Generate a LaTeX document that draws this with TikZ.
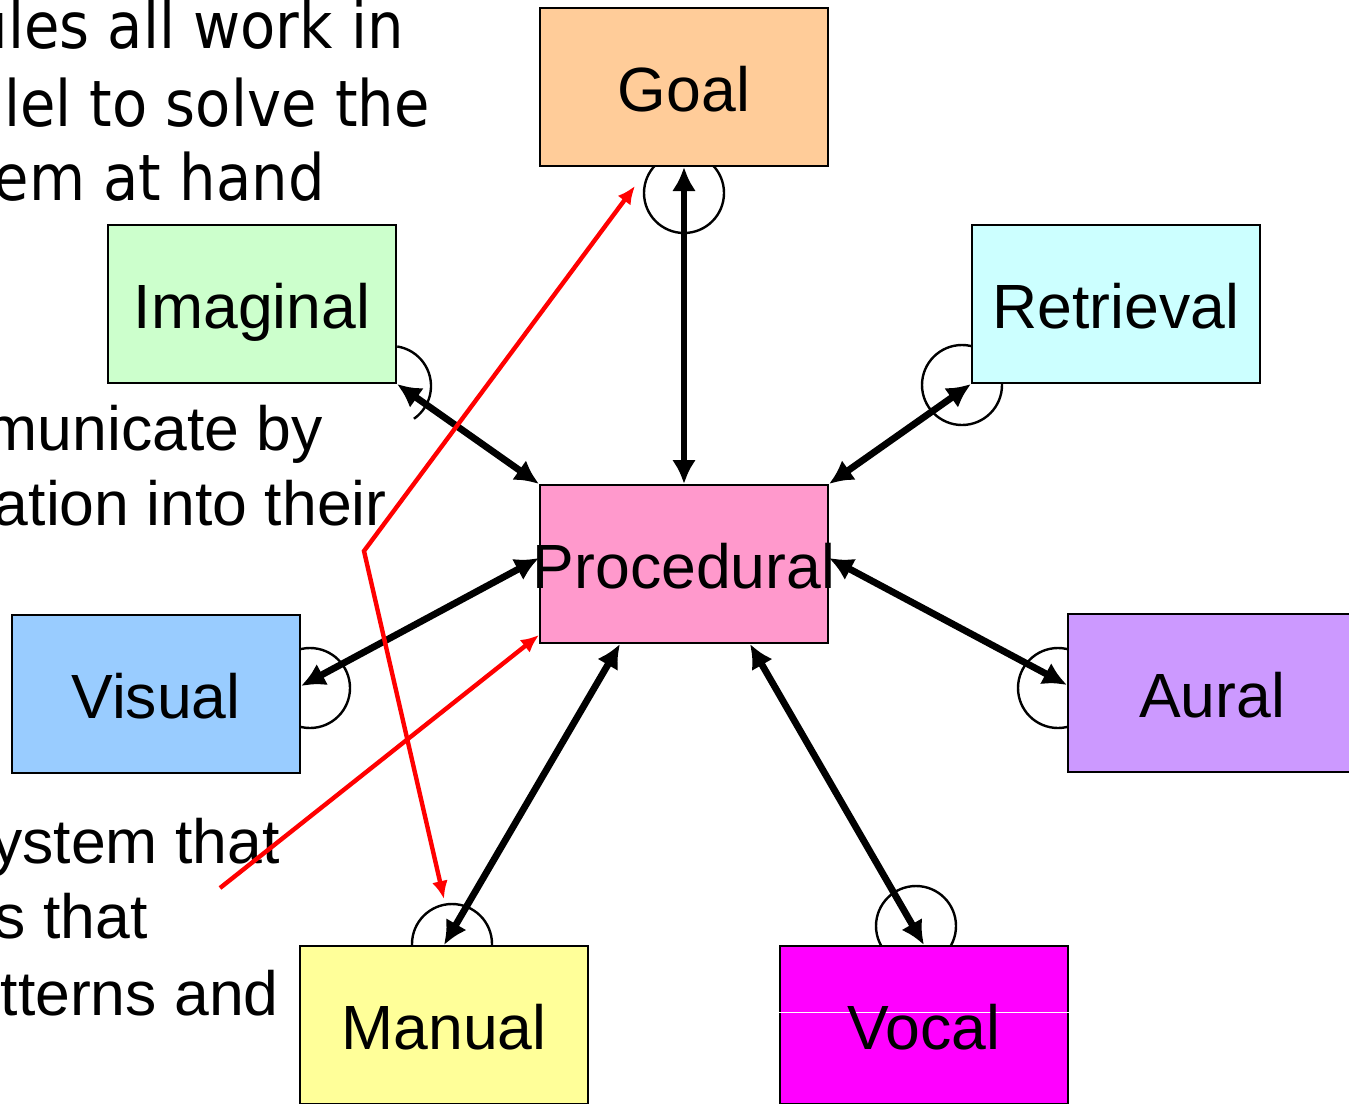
\documentclass[tikz,border=0pt]{standalone}
\usepackage{fontspec}
\setmainfont{Liberation Sans}
\newfontfamily\tahomafont[FakeStretch=0.9]{DejaVu Sans}
\usetikzlibrary{arrows.meta,backgrounds}

\definecolor{goalfill}{HTML}{FFCC99}
\definecolor{imagfill}{HTML}{CCFFCC}
\definecolor{retrfill}{HTML}{CCFFFF}
\definecolor{procfill}{HTML}{FF99CC}
\definecolor{visualfill}{HTML}{99CCFF}
\definecolor{auralfill}{HTML}{CC99FF}
\definecolor{manualfill}{HTML}{FFFF99}
\definecolor{vocalfill}{HTML}{FF00FF}

\begin{document}
\begin{tikzpicture}[
    x=0.5pt, y=-0.5pt,
    module/.style={draw, line width=1pt, rectangle, minimum width=144pt, minimum height=79pt, inner sep=0pt},
    tag/.style={font=\fontsize{31.25}{37.5}\selectfont, inner sep=0pt, text height=24pt, text depth=0pt},
    notetext/.style={font=\fontsize{31.25}{37.5}\selectfont, inner sep=0pt, anchor=base east},
    notetahoma/.style={notetext, font=\tahomafont\fontsize{32}{38}\selectfont},
    link/.style={{Latex[length=12pt,width=12pt]}-{Latex[length=12pt,width=12pt]}, line width=3.4pt},
    ring/.style={line width=1.2pt},
    redline/.style={red, line width=2.2pt}
  ]
    \useasboundingbox (0,0) rectangle (1349,1103);
    \clip (0,0) rectangle (1349,1103);

    % Text cut off at the left
    \node[notetahoma] (note1a) at (404,48)  {ules all work in};
    \node[notetahoma] (note1b) at (430,126) {lel to solve the};
    \node[notetahoma] (note1c) at (325,200) {em at hand};
    \node[notetext] (note2a) at (323,450) {municate by};
    \node[notetext] (note2b) at (387,525) {ation into their};
    \node[notetext] (note3a) at (280,863) {ystem that};
    \node[notetext] (note3b) at (148,938) {s that};
    \node[notetext] (note3c) at (279,1015) {tterns and};

    % Modules
    \node[module, fill=goalfill]   at (684,87)   (goal)   {};
    \node[module, fill=imagfill]   at (252,304)  (imag)   {};
    \node[module, fill=retrfill]   at (1116,304) (retr)   {};
    \node[module, fill=procfill]   at (684,564)  (proc)   {};
    \node[module, fill=visualfill] at (156,694)  (visual) {};
    \node[module, fill=auralfill]  at (1212,693) (aural)  {};
    \node[module, fill=manualfill] at (444,1025) (manual) {};
    \node[module, fill=vocalfill]  at (924,1025) (vocal)  {};
    \draw[white, line width=0.5pt] ([yshift=6.5pt]vocal.west) -- ([yshift=6.5pt]vocal.east);

    % Buffers
    \begin{scope}[on background layer]
      \draw[ring] ([yshift=-13pt]goal.south) circle[radius=20pt];
      \draw[ring] ([shift={(-3pt,-1pt)}]imag.south east) ++(81:20pt) arc[start angle=81, end angle=-55, radius=20pt];
      \draw[ring] ([shift={(-4.5pt,-0.5pt)}]retr.south west) circle[radius=20pt];
      \draw[ring] ([shift={(4.5pt,3pt)}]visual.east) circle[radius=20pt];
      \draw[ring] ([shift={(-4.5pt,2.5pt)}]aural.west) circle[radius=20pt];
      \draw[ring] ([shift={(4pt,0.5pt)}]manual.north) circle[radius=20pt];
      \draw[ring] ([shift={(-4pt,9.5pt)}]vocal.north) circle[radius=20pt];
    \end{scope}

    % Labels
    \node[tag] at (goal)   (goaltxt)   {Goal};
    \node[tag] at (imag)   (imagtxt)   {Imaginal};
    \node[tag] at (retr)   (retrtxt)   {Retrieval};
    \node[tag] at (proc)   (proctxt)   {Procedural};
    \node[tag] at (visual) (visualtxt) {Visual};
    \node[tag] at (aural)  (auraltxt)  {Aural};
    \node[tag] at (manual) (manualtxt) {Manual};
    \node[tag] at (vocal)  (vocaltxt)  {Vocal};

    % Connections to procedural
    \draw[link] (goal) -- (proc);
    \draw[link] (imag.south east) -- (proc.north west);
    \draw[link] (retr.south west) -- (proc.north east);
    \draw[link] ([yshift=4pt]visual.east) -- ([yshift=3pt]proc.west);
    \draw[link] ([yshift=3pt]proc.east) -- ([yshift=4pt]aural.west);
    \draw[link] ([xshift=-32pt]proc.south) -- (manual.north);
    \draw[link] ([xshift=33pt]proc.south) -- (vocal.north);

    % Red arrows
    \coordinate (redtail) at (220,888);
    \coordinate (redbend) at (364,551);
    \draw[redline, -{Latex[length=9pt,width=8pt]}] (redtail) -- ([yshift=4.5pt]proc.south west);
    \draw[redline, {Latex[length=9pt,width=8pt]}-{Latex[length=9pt,width=8pt]}] ([shift={(48pt,-9.5pt)}]goal.south west) -- (redbend) -- ([yshift=23pt]manual.north);

  \end{tikzpicture}
\end{document}
